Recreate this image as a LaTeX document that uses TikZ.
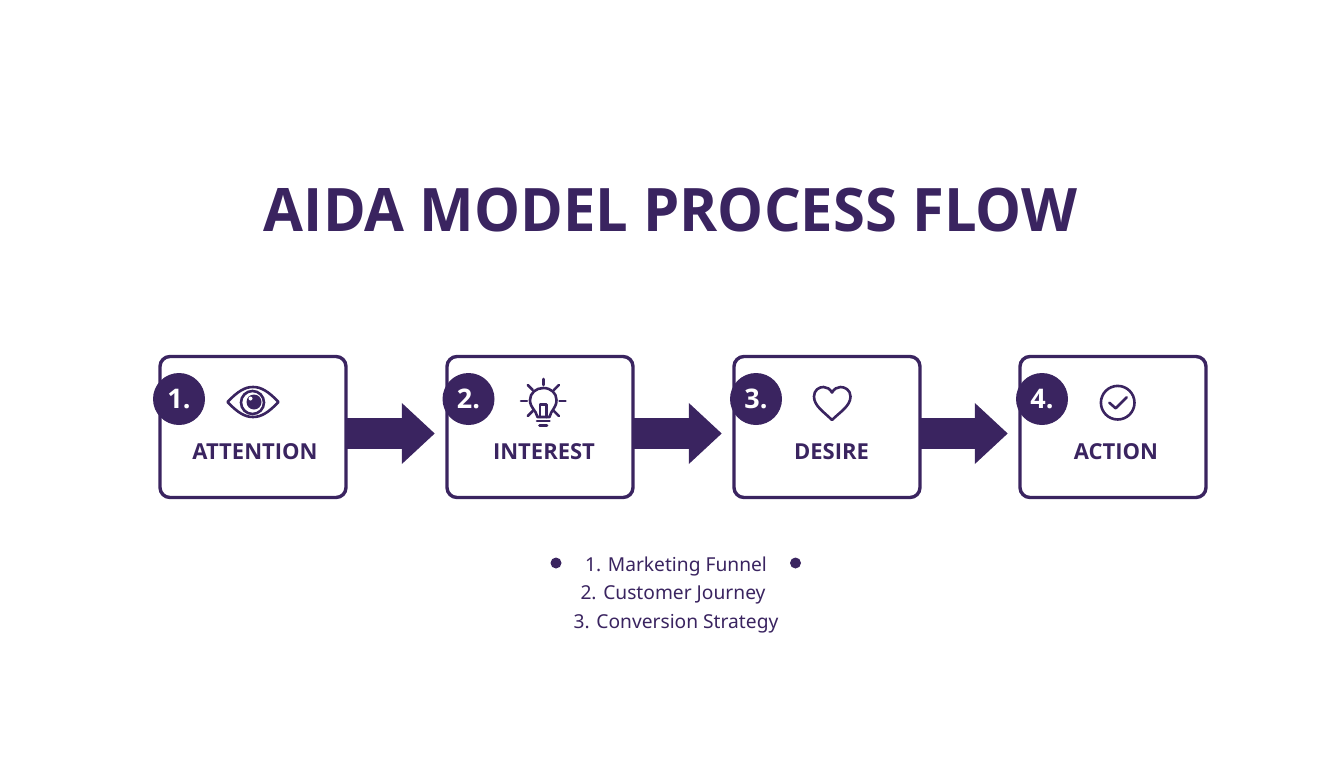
\documentclass[tikz,border=0pt]{standalone}
\usepackage{fontspec}
\setmainfont{Noto Sans}
\newfontfamily\headfont{Open Sans}
\newfontfamily\titlefont{Open Sans}[FakeStretch=0.965]
\usetikzlibrary{calc,arrows.meta}
\definecolor{aidapurple}{HTML}{3A2460}
\tikzset{
    stagebox/.style={draw=aidapurple,line width=3.4pt,rounded corners=10pt,minimum width=186pt,minimum height=141pt,inner sep=0pt},
    badge/.style={circle,fill=aidapurple,text=white,minimum size=52pt,inner sep=0pt,font=\headfont\fontsize{27}{27}\selectfont\bfseries},
    stagelabel/.style={text=aidapurple,inner sep=0pt,font=\headfont\fontsize{22}{22}\selectfont\bfseries},
    listline/.style={text=aidapurple,inner sep=0pt,font=\fontsize{19.2}{19.2}\selectfont},
    listdot/.style={circle,fill=aidapurple,minimum size=11pt,inner sep=0pt},
    flowarrow/.style={draw=aidapurple,fill=aidapurple,line width=31pt,shorten <=-2pt,shorten >=10.5pt,-{Triangle[length=33pt,width=59pt]}},
    iconline/.style={draw=aidapurple,line width=2.6pt,line cap=round,line join=round}
}
\begin{document}
\begin{tikzpicture}[x=1pt,y=-1pt]
        \useasboundingbox (0,0) rectangle (1344,768);
        \node[text=aidapurple,inner sep=0pt,font=\titlefont\fontsize{60}{60}\selectfont\bfseries] (title) at (670.5,210) {AIDA MODEL PROCESS FLOW};
        % the four stages
        \foreach \n/\bx/\cx/\lx/\name in {1/253/179/255/ATTENTION,2/540/468.5/544/INTEREST,3/827/756/831.5/DESIRE,4/1113/1042/1116/ACTION}{
            \node[stagebox] (box\n) at (\bx,427){};
            \node[stagelabel] (label\n) at (\lx,451.5){\name};
            \node[badge] (badge\n) at (\cx,399){\n.};
        }
        \foreach \a/\b in {1/2,2/3,3/4}{
            \draw[flowarrow] ($(box\a.east)+(0,6.5)$) -- ($(box\b.west)+(0,6.5)$);
        }
        % eye
        \draw[iconline] (227.5,402) .. controls (238,391) and (245,387) .. (253,387) .. controls (261,387) and (268,391) .. (278.5,402) .. controls (268,413) and (261,417) .. (253,417) .. controls (245,417) and (238,413) .. (227.5,402) -- cycle;
        \draw[iconline] (252.5,402.5) circle (11.5);
        \fill[aidapurple] (254,402) circle (7.5);
        \fill[white] (250.5,398.5) circle (2);
        % bulb
        \draw[iconline] (537.5,417) .. controls (536,410) and (530,408) .. (530,400) .. controls (530,393) and (536,388) .. (543.3,388) .. controls (551,388) and (556.5,393) .. (556.5,400) .. controls (556.5,408) and (551,410) .. (549.5,417) -- cycle;
        \draw[iconline] (540,417) -- (540,404.5) -- (546.5,404.5) -- (546.5,417);
        \draw[iconline] (537,421) -- (549.5,421);
        \draw[iconline] (539.5,425.7) -- (547,425.7);
        \foreach \xa/\ya/\xb/\yb in {543.3/379/543.3/385,521/401/527/401,559.5/401/565.5/401,527.7/385/532.7/390,558.9/385/553.9/390,527.7/416/532.7/411,558.9/416/553.9/411}{
            \draw[iconline] (\xa,\ya) -- (\xb,\yb);
        }
        % heart
        \draw[iconline] (832,420) .. controls (824,412) and (814,406) .. (814,396.5) .. controls (814,390) and (819,387) .. (823.5,387) .. controls (827,387) and (830,389) .. (832,392.5) .. controls (834,389) and (837,387) .. (840.5,387) .. controls (845,387) and (850.5,390) .. (850.5,396.5) .. controls (850.5,406) and (840,412) .. (832,420) -- cycle;
        % check
        \draw[iconline] (1117.7,402.7) circle (16.8);
        \draw[iconline] (1109.3,402.7) -- (1115.7,408.3) -- (1126.7,397.3);
        % list below
        \foreach \n/\lx/\ly/\item in {1/676/566.5/1. Marketing Funnel,2/673/595/2. Customer Journey,3/676/623.5/3. Conversion Strategy}{
            \node[listline] (line\n) at (\lx,\ly){\item};
        }
        \node[listdot] (dotl) at (556,563){};
        \node[listdot] (dotr) at (795.5,563){};
    \end{tikzpicture}
\end{document}
